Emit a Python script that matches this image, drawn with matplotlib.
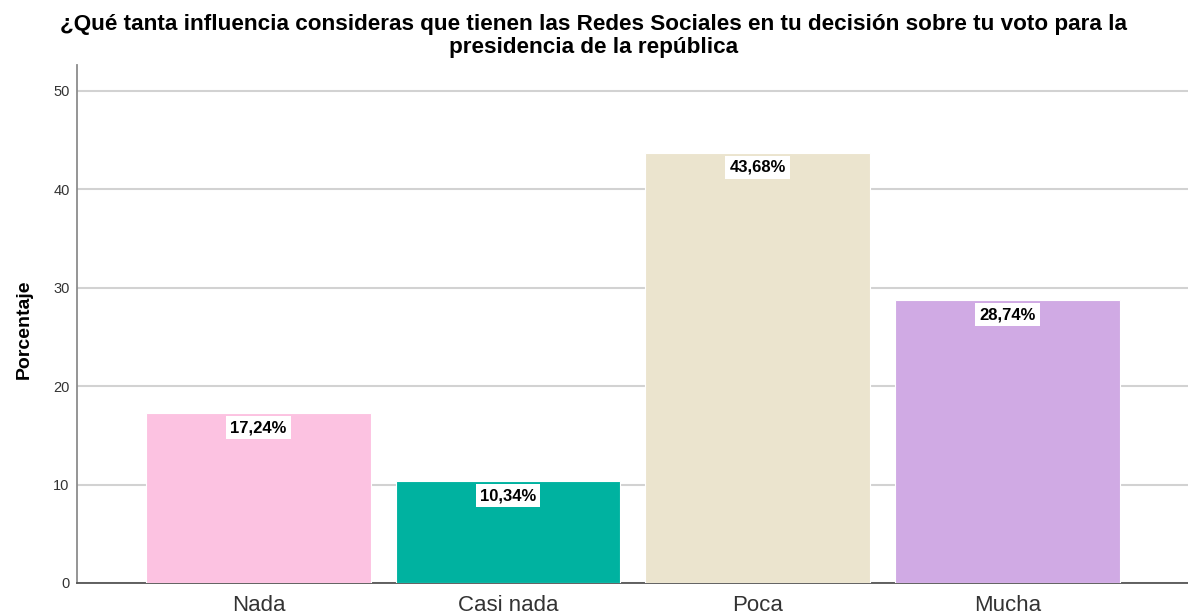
import matplotlib
matplotlib.use("Agg")
import matplotlib.pyplot as plt

# Survey answers and their percentages
categories = ["Nada", "Casi nada", "Poca", "Mucha"]
percentages = [17.24, 10.34, 43.68, 28.74]
bar_colors = ["#FCC2E1", "#00B2A0", "#EBE4CE", "#D0AAE4"]
y_ticks = [0, 10, 20, 30, 40, 50]

title = ("¿Qué tanta influencia consideras que tienen las Redes Sociales en tu decisión sobre tu voto para la\n"
         "presidencia de la república")

plt.rcParams["font.family"] = ["Liberation Sans", "DejaVu Sans"]

fig = plt.figure(figsize=(11.88, 6.16), dpi=100)
ax = fig.add_axes([0.0651, 0.0536, 0.9349, 0.8409])

x = list(range(len(categories)))
ax.bar(x, percentages, width=0.9, color=bar_colors, edgecolor="white",
       linewidth=0.8, zorder=3)

for xi, v in zip(x, percentages):
    ax.annotate(f"{v:.2f}%".replace(".", ","), xy=(xi, v), xytext=(0, -10.5),
                textcoords="offset points", ha="center", va="center",
                fontsize=12, fontweight="bold", color="black", zorder=5,
                bbox=dict(boxstyle="square,pad=0.25", facecolor="white",
                          edgecolor="none"))

ax.set_xlim(-0.726, 3.724)
ax.set_ylim(0, 52.6)
ax.set_xticks(x)
ax.set_xticklabels(categories, fontsize=16, color="#333333")
ax.set_yticks(y_ticks)
ax.set_yticklabels([str(t) for t in y_ticks], fontsize=10.5, color="#333333")
ax.tick_params(axis="x", length=0, pad=8.5)
ax.tick_params(axis="y", length=0, pad=5.5)

ax.yaxis.grid(True, color="#D2D2D2", linewidth=1.5, zorder=0)
ax.set_axisbelow(True)

for side in ("top", "right"):
    ax.spines[side].set_visible(False)
ax.spines["left"].set_color("#8C8C8C")
ax.spines["left"].set_linewidth(1.3)
ax.spines["bottom"].set_color("#555555")
ax.spines["bottom"].set_linewidth(1.3)

ax.set_ylabel("Porcentaje", fontsize=14, fontweight="bold", color="black")
ax.yaxis.set_label_coords(-0.040, 0.49)

fig.text(0.5, 1 - 14 / 616, title, ha="center", va="top", fontsize=16.2,
         fontweight="bold", color="black", linespacing=1.1)

fig.savefig("out.png", dpi=100)
